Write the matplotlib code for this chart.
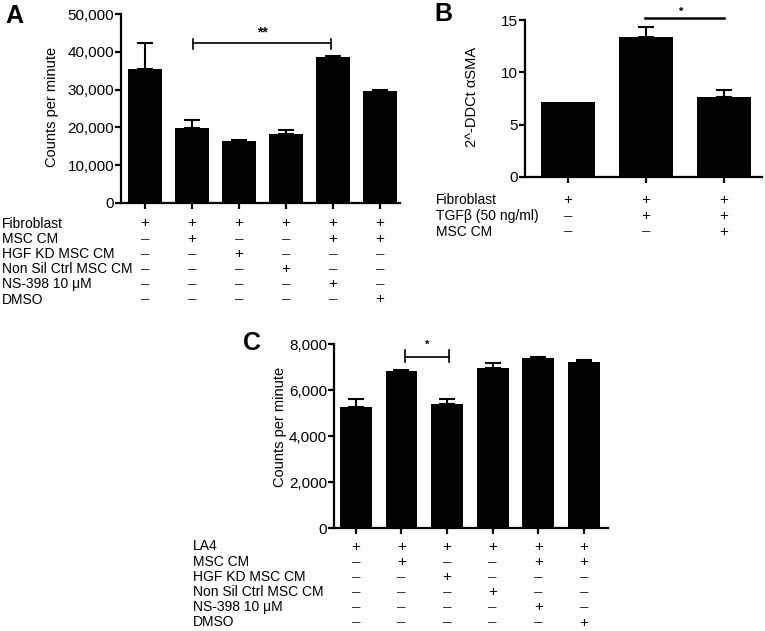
import matplotlib.pyplot as plt
from matplotlib.transforms import blended_transform_factory

plt.rcParams['font.family'] = ['Liberation Sans', 'DejaVu Sans']

W, H = 765, 631

# panel A
a_vals = [35500, 19900, 16400, 18300, 38700, 29700]
a_err = [6800, 2000, 150, 1000, 300, 300]
a_rows = ['Fibroblast', 'MSC CM', 'HGF KD MSC CM', 'Non Sil Ctrl MSC CM', 'NS-398 10 \u03bcM', 'DMSO']
a_signs = ['++++++', '-+--++', '--+---', '---+--', '----+-', '-----+']

# panel B
b_vals = [7.2, 13.4, 7.6]
b_err = [0.0, 0.9, 0.7]
b_rows = ['Fibroblast', 'TGF\u03b2 (50 ng/ml)', 'MSC CM']
b_signs = ['+++', '-++', '--+']

# panel C
c_vals = [5260, 6830, 5390, 6960, 7390, 7220]
c_err = [350, 60, 220, 210, 40, 90]
c_rows = ['LA4', 'MSC CM', 'HGF KD MSC CM', 'Non Sil Ctrl MSC CM', 'NS-398 10 \u03bcM', 'DMSO']
c_signs = ['++++++', '-+--++', '--+---', '---+--', '----+-', '-----+']

fig = plt.figure(figsize=(W / 100, H / 100), dpi=100)


def px_axes(left, top, right, bottom):
    return fig.add_axes([left / W, 1 - bottom / H, (right - left) / W, (bottom - top) / H])


def style(ax):
    for s in ['top', 'right']:
        ax.spines[s].set_visible(False)
    for s in ['left', 'bottom']:
        ax.spines[s].set_linewidth(1.6)
    ax.tick_params(direction='out', length=4, width=1.6, labelsize=11, pad=1)
    ax.set_xticklabels([])


def bars(ax, vals, errs, width):
    x = list(range(len(vals)))
    ax.bar(x, vals, width=width, color='black', zorder=2)
    ex = [i for i in x if errs[i] > 0]
    ax.errorbar(ex, [vals[i] for i in ex], yerr=[[0] * len(ex), [errs[i] for i in ex]],
                fmt='none', ecolor='black', elinewidth=1.5, capsize=6, capthick=1.5, zorder=3)
    ax.set_xticks(x)


def table(ax, rows, signs, label_x, y0, dy):
    tr = blended_transform_factory(ax.transData, fig.transFigure)
    for i, (name, sg) in enumerate(zip(rows, signs)):
        yy = 1 - (y0 + i * dy) / H
        fig.text(label_x / W, yy, name, fontsize=10, va='center_baseline', ha='left')
        for j, c in enumerate(sg):
            ch = '+' if c == '+' else '\u2013'
            ax.text(j, yy, ch, transform=tr, fontsize=11, ha='center', va='center_baseline',
                    color='black' if c == '+' else '#333333')


# A
axA = px_axes(121, 14, 400, 203)
bars(axA, a_vals, a_err, 0.72)
axA.set_xlim(-0.51, 5.43)
axA.set_ylim(0, 50000)
axA.set_yticks([0, 10000, 20000, 30000, 40000, 50000])
axA.set_yticklabels(['0', '10,000', '20,000', '30,000', '40,000', '50,000'])
style(axA)
axA.plot([1.03, 3.97], [42200, 42200], color='black', lw=1.2, clip_on=False)
for xb in [1.03, 3.97]:
    axA.plot([xb, xb], [40700, 43500], color='black', lw=1.2, clip_on=False)
axA.text(2.5, 45000, '**', ha='center', va='center', fontsize=10, fontweight='bold')
fig.text(52 / W, 1 - 107 / H, 'Counts per minute', rotation=90, ha='center', va='center', fontsize=10.5)
fig.text(5 / W, 1 - 16 / H, 'A', fontsize=18, fontweight='bold', ha='left', va='center')
table(axA, a_rows, a_signs, 2, 222, 15.2)

# B
axB = px_axes(525, 20, 762, 177)
bars(axB, b_vals, b_err, 0.69)
axB.set_xlim(-0.55, 2.49)
axB.set_ylim(0, 15)
axB.set_yticks([0, 5, 10, 15])
style(axB)
axB.plot([0.99, 2.0], [15.15, 15.15], color='black', lw=1.8, clip_on=False)
axB.text(1.45, 15.75, '*', ha='center', va='center', fontsize=8, fontweight='bold')
fig.text(472 / W, 1 - 97 / H, '2^-DDCt \u03b1SMA', rotation=90, ha='center', va='center', fontsize=10.5)
fig.text(434 / W, 1 - 14 / H, 'B', fontsize=18, fontweight='bold', ha='left', va='center')
table(axB, b_rows, b_signs, 436, 199, 15.5)

# C
axC = px_axes(334, 344, 608, 528)
bars(axC, c_vals, c_err, 0.70)
axC.set_xlim(-0.48, 5.53)
axC.set_ylim(0, 8000)
axC.set_yticks([0, 2000, 4000, 6000, 8000])
axC.set_yticklabels(['0', '2,000', '4,000', '6,000', '8,000'])
style(axC)
axC.plot([1.08, 2.05], [7430, 7430], color='black', lw=1.2, clip_on=False)
for xb in [1.08, 2.05]:
    axC.plot([xb, xb], [7200, 7720], color='black', lw=1.2, clip_on=False)
axC.text(1.56, 7980, '*', ha='center', va='center', fontsize=8, fontweight='bold')
fig.text(280 / W, 1 - 427 / H, 'Counts per minute', rotation=90, ha='center', va='center', fontsize=10.5)
fig.text(243 / W, 1 - 343 / H, 'C', fontsize=18, fontweight='bold', ha='left', va='center')
table(axC, c_rows, c_signs, 193, 545, 15.2)

fig.savefig('out.png', dpi=100)
